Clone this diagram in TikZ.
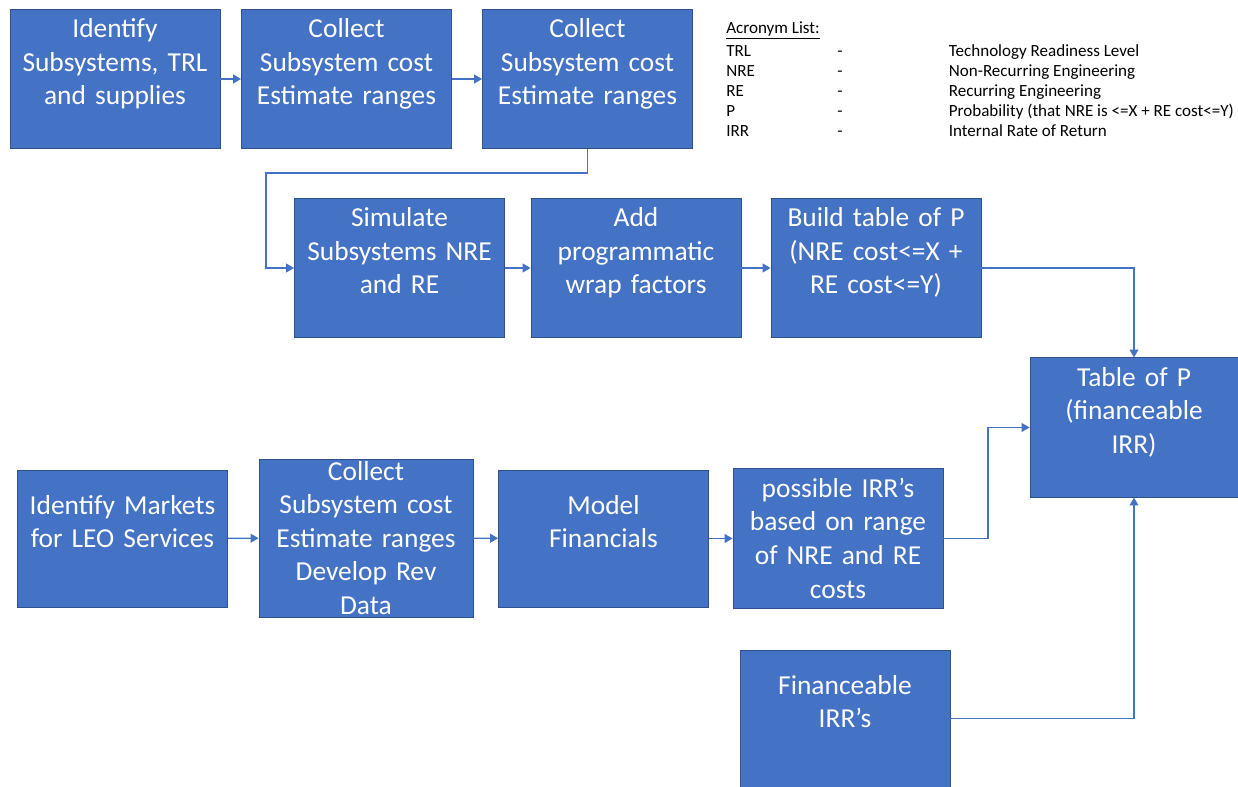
\documentclass[tikz,border=0pt]{standalone}
\usepackage{fontspec}
\setmainfont{Carlito}
\usetikzlibrary{arrows.meta, positioning}
\definecolor{boxblue}{HTML}{4472C4}
\definecolor{boxedge}{HTML}{2F528F}
\definecolor{linkblue}{HTML}{4472C4}

\begin{document}
\begin{tikzpicture}[
    boxbase/.style={draw=boxedge, line width=0.5pt, fill=boxblue, text=white,
      minimum width=4.2cm, minimum height=2.74cm, text width=4.0cm, inner sep=0pt,
      align=center, font=\fontsize{15.6}{19.1}\selectfont},
    stepbox/.style={boxbase,
      execute at begin node={\rule{0pt}{16.2pt}}, execute at end node=\strut},
    flow/.style={draw=linkblue, line width=0.8pt, -{Triangle[length=4.5pt,width=5pt]}}
  ]
  % Frame
  \useasboundingbox (0,0) rectangle (24.76,-15.74);

  % Top row
  \node[stepbox] (a1) at (2.30,-1.58) {Identify\\Subsystems, TRL\\and supplies\\};
  \node[stepbox] (a2) at (6.93,-1.58) {Collect\\Subsystem cost\\Estimate ranges\\};
  \node[stepbox] (a3) at (11.75,-1.58) {Collect\\Subsystem cost\\Estimate ranges\\};

  % Acronym list
  \node[anchor=base west, inner sep=0pt, font=\fontsize{9.7}{11.3}\selectfont] (acronyms) at (14.52,-0.67) {%
    \begin{tabular}[t]{@{}p{2.22cm}@{}p{2.23cm}@{}l@{}}
      \multicolumn{3}{@{}l@{}}{\underline{Acronym List:}}\\[2pt]
      TRL & - & Technology Readiness Level\\
      NRE & - & Non-Recurring Engineering\\
      RE  & - & Recurring Engineering\\
      P   & - & Probability (that NRE is <=X + RE cost<=Y)\\
      IRR & - & Internal Rate of Return
    \end{tabular}};

  % Second row
  \node[stepbox] (b1) at (7.99,-5.36) {Simulate\\Subsystems NRE\\and RE\\};
  \node[stepbox] (b2) at (12.72,-5.36) {Add\\programmatic\\wrap factors\\};
  \node[stepbox] (b3) at (17.52,-5.36) {Build table of P\\(NRE cost<=X +\\RE cost<=Y)\\};

  % Result
  \node[stepbox, minimum width=4.16cm, minimum height=2.78cm] (t) at (22.68,-8.55) {Table of P\\(financeable\\IRR)\\};

  % Third row
  \node[stepbox] (c1) at (2.45,-10.77) {Identify Markets\\for LEO Services\\};
  \node[boxbase, minimum width=4.28cm, minimum height=3.16cm] (c2) at (7.32,-10.76) {Collect\\Subsystem cost\\Estimate ranges\\Develop Rev\\Data};
  \node[stepbox] (c3) at (12.07,-10.77) {Model\\Financials\\};
  \node[stepbox] (c4) at (16.76,-10.77) {possible IRR’s\\based on range\\of NRE and RE\\costs};

  % Bottom
  \node[stepbox] (d) at (16.90,-14.37) {Financeable\\IRR’s\\};

  % Connectors
  \coordinate (turn1) at (5.32,-3.46);
  \coordinate (turn2) at (19.76,-10.77);
  \draw[flow] (a1) -- (a2);
  \draw[flow] (a2) -- (a3);
  \draw[flow] (a3.south) |- (turn1) |- (b1.west);
  \draw[flow] (b1) -- (b2);
  \draw[flow] (b2) -- (b3);
  \draw[flow] (b3.east) -| (t.north);
  \draw[flow] (c1) -- (c2);
  \draw[flow] (c2) -- (c3);
  \draw[flow] (c3) -- (c4);
  \draw[flow] (c4.east) -- (turn2) |- (t.west);
  \draw[flow] (d.east) -| (t.south);
\end{tikzpicture}
\end{document}
